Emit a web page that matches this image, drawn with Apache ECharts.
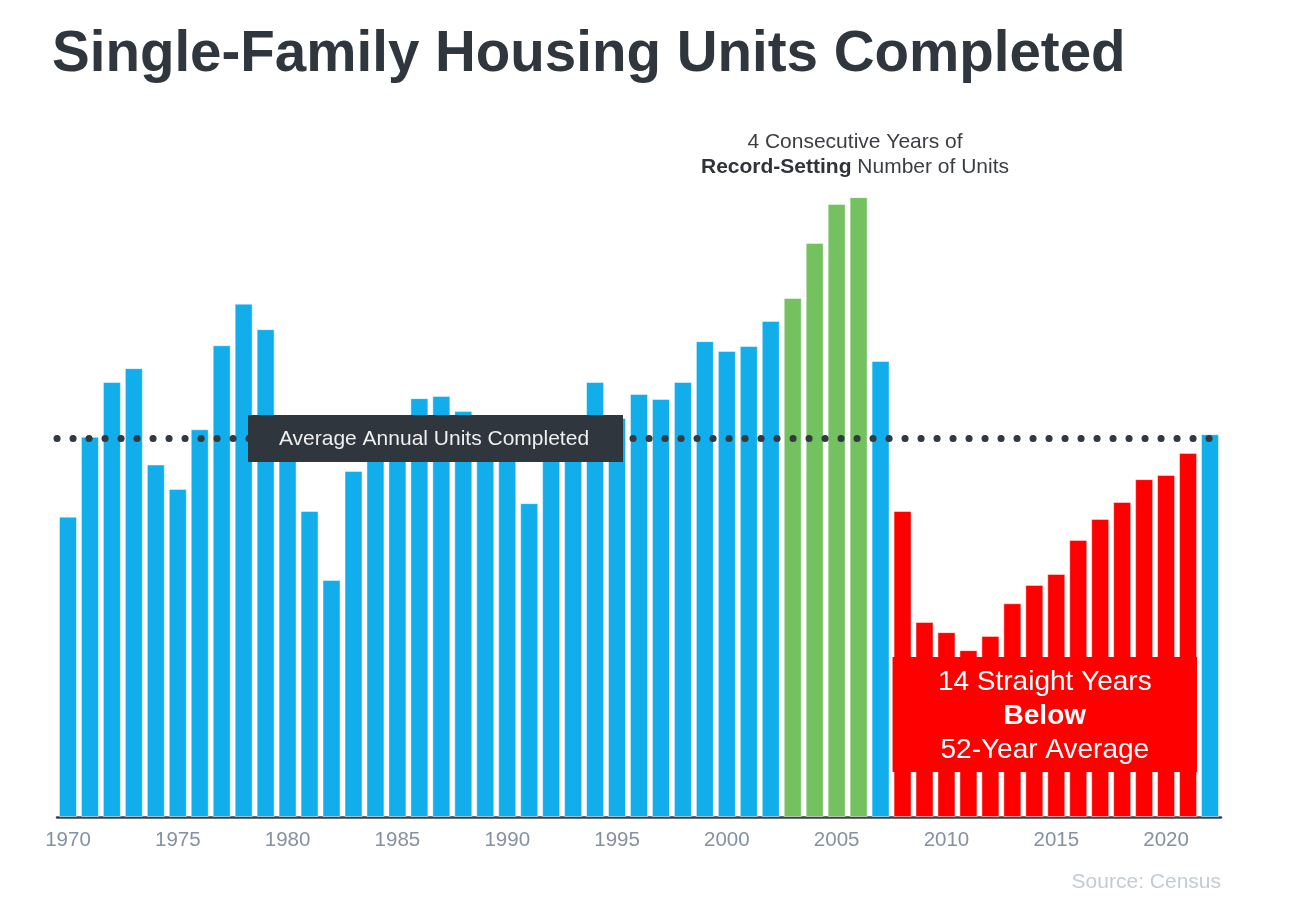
<!DOCTYPE html>
<html>
<head>
<meta charset="utf-8">
<script src="https://cdn.jsdelivr.net/npm/echarts@6/dist/echarts.min.js"></script>
<style>
html,body{margin:0;padding:0;background:#fff;}
#c{width:1304px;height:916px;}
</style>
</head>
<body>
<div id="c"></div>
<script>
const years = ['1970','1971','1972','1973','1974','1975','1976','1977','1978','1979',
  '1980','1981','1982','1983','1984','1985','1986','1987','1988','1989',
  '1990','1991','1992','1993','1994','1995','1996','1997','1998','1999',
  '2000','2001','2002','2003','2004','2005','2006','2007','2008','2009',
  '2010','2011','2012','2013','2014','2015','2016','2017','2018','2019',
  '2020','2021','2022'];
const units = [801,1014,1160,1197,940,875,1034,1258,1369,1301,
  957,816,632,923,1025,1072,1117,1123,1083,1026,
  966,837,964,1039,1160,1064,1128,1115,1160,1269,
  1243,1256,1323,1384,1531,1635,1653,1216,816,520,
  493,445,483,570,619,648,739,795,840,901,
  912,971,1021];
const recordYears = ['2003','2004','2005','2006'];
const belowYears = ['2008','2009','2010','2011','2012','2013','2014','2015','2016','2017','2018','2019','2020','2021'];
const averageUnits = 1011;

const FONT = '"Liberation Sans", Arial, Helvetica, sans-serif';
const BLUE = '#12aeeb', GREEN = '#74c160', RED = '#ff0000';

const barData = years.map((y, i) => ({
  value: units[i],
  itemStyle: {
    color: recordYears.includes(y) ? GREEN : (belowYears.includes(y) ? RED : BLUE)
  }
}));

const chart = echarts.init(document.getElementById('c'), null, {renderer: 'canvas'});
const BAR_W = 18;
chart.setOption({
  animation: false,
  backgroundColor: '#ffffff',
  title: {
    text: 'Single-Family Housing Units Completed',
    left: 47, top: 22,
    textStyle: {fontFamily: FONT, fontSize: 56.5, fontWeight: 'bold', color: '#30363e', lineHeight: 56}
  },
  grid: {left: 57, right: 83, top: 142, bottom: 99, containLabel: false},
  xAxis: {
    type: 'category',
    data: years,
    boundaryGap: true,
    axisLine: {show: true, lineStyle: {color: '#3d4248', width: 2.5}},
    axisTick: {show: false},
    axisLabel: {
      interval: (idx) => idx % 5 === 0,
      color: '#8391a3', fontFamily: FONT, fontSize: 20.5, margin: 13
    },
    splitLine: {show: false}
  },
  yAxis: {
    type: 'value', min: 0, max: 1800,
    show: false,
    splitLine: {show: false}
  },
  series: [{
    type: 'bar',
    data: barData,
    barWidth: BAR_W,
    itemStyle: {borderColor: 'rgba(255,255,255,0.45)', borderWidth: 1},
    markLine: {
      silent: true,
      symbol: ['none', 'none'],
      z: 10,
      label: {show: false},
      lineStyle: {color: '#333940', width: 7, type: [0.1, 15.9], cap: 'round'},
      data: [{yAxis: averageUnits}]
    }
  }]
});

// Annotations anchored to the axes
const px = (cat) => chart.convertToPixel({xAxisIndex: 0}, cat);
const redLeft = px(belowYears[0]) - BAR_W / 2 - 1;
const redRight = px(belowYears[belowYears.length - 1]) + BAR_W / 2;

chart.setOption({
  graphic: [
    {
      type: 'rect', z: 100,
      shape: {x: redLeft, y: 657, width: redRight - redLeft, height: 115},
      style: {fill: RED}
    },
    {
      type: 'text', z: 101,
      x: (redLeft + redRight) / 2, y: 716,
      style: {
        text: '14 Straight Years\n{b|Below}\n52-Year Average',
        fill: '#ffffff', font: '28px ' + FONT,
        align: 'center', verticalAlign: 'middle', lineHeight: 34,
        rich: {b: {fontWeight: 'bold', fontSize: 28, fontFamily: FONT, fill: '#ffffff', lineHeight: 34}}
      }
    },
    {
      type: 'rect', z: 100,
      shape: {x: 248, y: 415, width: 375, height: 47},
      style: {fill: '#30363d'}
    },
    {
      type: 'text', z: 101,
      x: 434, y: 439,
      style: {
        text: 'Average Annual Units Completed',
        fill: '#eeeeee', font: '21px ' + FONT,
        align: 'center', verticalAlign: 'middle'
      }
    },
    {
      type: 'text', z: 101,
      x: 855, y: 155,
      style: {
        text: '4 Consecutive Years of\n{b|Record-Setting} Number of Units',
        fill: '#3a3d42', font: '21px ' + FONT,
        align: 'center', verticalAlign: 'middle', lineHeight: 25,
        rich: {b: {fontWeight: 'bold', fontSize: 21, fontFamily: FONT, fill: '#30343a', lineHeight: 25}}
      }
    },
    {
      type: 'text', z: 101,
      x: 1221, y: 882,
      style: {
        text: 'Source: Census',
        fill: '#c3ccd3', font: '21px ' + FONT,
        align: 'right', verticalAlign: 'middle'
      }
    }
  ]
});
</script>
</body>
</html>
